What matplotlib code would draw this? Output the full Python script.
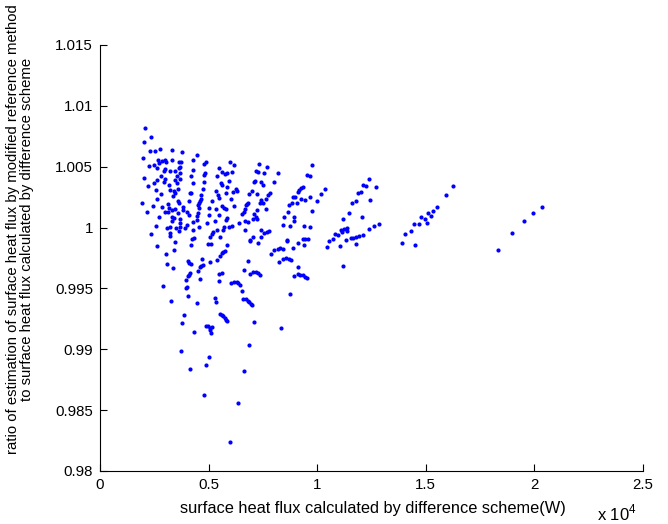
import matplotlib
matplotlib.use("Agg")
import matplotlib.pyplot as plt
import numpy as np

plt.rcParams['font.family'] = ['Liberation Sans', 'DejaVu Sans']
plt.rcParams['mathtext.fontset'] = 'custom'
plt.rcParams['mathtext.rm'] = 'Liberation Sans'

# ---- data (x: surface heat flux in W, y: ratio) ----
x_group_a = [2056,2333,2026,2302,2548,2778,3330,3776,1995,4482,
             4267,2670,2870,3008,2732,3054,3300,3653,3714,4881,
             4804,2271,2502,2640,3008,3684,3622,5479,4282,3453,
             3223,3684,2931,5618,4850,2010,2824,3008,3530,4190,
             4789,5372,2640,2471,2947,3438,3699,4789,3177,3545,
             4298,5572,5633,2225,2578,2809,3223,3392,3607,4205,
             4129,4743,4651,5326,5433,5495,2609,3469,3346,1934,
             2456,2855,3116,3607,3653,4083,4635,4605,4574,5142,
             5602,2179,3192,3330,3438,3837,3806,4497,4558,5034,
             5341,3146,2977,3591,3991,4512,4451,5034,5495,2732,
             3315,3407,4113,3684,4482,5311,3330,3684,4298,4021,
             4912,2578,3100,3223,3499,3684,3914,4298,4558,5403,
             5219,5142,5080,5725,5679,2333,3208,3223,3637,4236,
             4313,5526,5863,5756,5925,5833,5802,5710,5787,5863,
             5787,5955]
y_group_a = [1.00816,1.00745,1.00704,1.00632,1.00632,1.00649,1.00635,1.00619,1.00572,1.00597,
             1.00558,1.00553,1.00547,1.00553,1.00534,1.00536,1.00556,1.00542,1.00542,1.00536,
             1.00520,1.00504,1.00515,1.00487,1.00482,1.00495,1.00487,1.00493,1.00476,1.00468,
             1.00468,1.00449,1.00463,1.00454,1.00446,1.00410,1.00427,1.00402,1.00424,1.00424,
             1.00432,1.00427,1.00391,1.00369,1.00375,1.00391,1.00400,1.00378,1.00347,1.00364,
             1.00367,1.00369,1.00350,1.00339,1.00312,1.00279,1.00306,1.00301,1.00320,1.00284,
             1.00284,1.00317,1.00271,1.00298,1.00265,1.00243,1.00232,1.00282,1.00257,1.00205,
             1.00180,1.00169,1.00191,1.00221,1.00205,1.00221,1.00238,1.00221,1.00205,1.00216,
             1.00180,1.00128,1.00158,1.00145,1.00150,1.00167,1.00145,1.00183,1.00161,1.00161,
             1.00153,1.00128,1.00126,1.00117,1.00126,1.00117,1.00095,1.00104,1.00106,1.00084,
             1.00090,1.00079,1.00104,1.00071,1.00065,1.00057,1.00057,1.00041,1.00049,1.00024,
             1.00041,1.00010,0.99994,1.00002,0.99997,1.00008,0.99997,0.99980,1.00008,0.99980,
             0.99967,0.99947,0.99926,1.00008,0.99983,0.99947,0.99958,0.99934,0.99975,0.99906,
             0.99915,0.99926,1.00446,1.00441,1.00386,1.00331,1.00287,1.00161,1.00153,1.00079,
             1.00065,1.00002]

x_group_b = [5970,6185,6093,7336,7689,7198,7290,7566,8180,7137,
             7075,7397,7490,8027,9746,9546,9685,6139,6323,6246,
             6047,6998,7244,6876,7827,7751,7643,7520,7351,7428,
             6169,6830,6783,6722,6661,9362,9270,9178,9117,8994,
             8902,8840,8718,8672,9240,9071,9439,9685,10360,10191,
             9976,9746,6538,6630,7643,7229,7106,7167,7044,7213,
             6661,6384,6830,6062,6676,7397,7781,7674,7551,7413,
             7029,8426,8487,8948,8917,8733,9408,9669,8625,9332,
             9439,9562,6891]
y_group_b = [1.00539,1.00512,1.00454,1.00526,1.00501,1.00463,1.00460,1.00446,1.00452,1.00386,
             1.00378,1.00378,1.00347,1.00375,1.00515,1.00435,1.00424,1.00290,1.00298,1.00320,
             1.00238,1.00301,1.00279,1.00273,1.00284,1.00265,1.00235,1.00199,1.00199,1.00224,
             1.00180,1.00205,1.00191,1.00183,1.00150,1.00336,1.00326,1.00312,1.00295,1.00252,
             1.00249,1.00205,1.00186,1.00131,1.00232,1.00199,1.00227,1.00252,1.00317,1.00276,
             1.00216,1.00136,1.00112,1.00126,1.00153,1.00145,1.00112,1.00084,1.00073,1.00073,
             1.00052,1.00035,1.00043,1.00016,0.99983,0.99983,0.99975,0.99964,0.99953,0.99920,
             0.99920,1.00021,1.00084,1.00090,1.00057,1.00013,1.00013,1.00002,0.99901,0.99906,
             0.99906,0.99906,0.99898]

x_group_c = [2640,3023,3392,3469,4205,4958,5111,5833,6907,7260,
             8626,9102,9394,8887,10468,3100,3377,2916,3269,4052,
             4113,4175,4712,4758,4666,4589,5050,5387,5510,5602,
             5664,5740,4528,4144,4098,4052,3975,4605,3960,3991,
             4037,4466,5464,5633,5495,5280,5357,6047,6186,6293,
             6370,6447,6539,6646,6800,6907,7061,7183,7275,7352,
             6585,6707,6815,6876,6938,6999,7076,6861,6615,6339,
             6001,5510,5602,5679,5756,5817,5833,4881,4988,5065,
             5173,5050,5096,3883,3791,4313,3730,4144,5004,4881,
             4773,7859,8028,8196,8304,8427,8227,8411,8565,8703,
             8810,9102,8933,9102,9225,9332,9440,9532,8764,8350]
y_group_c = [0.99846,0.99786,0.99816,0.99882,0.99860,0.99866,0.99868,0.99860,0.99893,0.99874,
             0.99893,0.99877,0.99855,0.99833,0.99844,0.99704,0.99668,0.99520,0.99397,0.99723,
             0.99707,0.99699,0.99740,0.99696,0.99685,0.99674,0.99721,0.99737,0.99770,0.99792,
             0.99800,0.99805,0.99641,0.99627,0.99614,0.99603,0.99573,0.99575,0.99504,0.99510,
             0.99436,0.99378,0.99616,0.99625,0.99559,0.99422,0.99386,0.99542,0.99553,0.99551,
             0.99542,0.99526,0.99476,0.99652,0.99729,0.99619,0.99633,0.99636,0.99627,0.99614,
             0.99414,0.99411,0.99400,0.99386,0.99375,0.99364,0.99222,0.99038,0.98819,0.98559,
             0.98238,0.99288,0.99285,0.99276,0.99260,0.99244,0.99233,0.99194,0.99192,0.99178,
             0.99184,0.99162,0.99137,0.99279,0.99214,0.99140,0.98986,0.98841,0.98934,0.98874,
             0.98625,0.99781,0.99814,0.99825,0.99830,0.99825,0.99721,0.99743,0.99748,0.99743,
             0.99734,0.99677,0.99603,0.99616,0.99614,0.99608,0.99597,0.99586,0.99457,0.99178]

x_group_d = [11895,11588,11787,11465,11204,10820,10974,11097,11158,11235,
             11358,11388,10744,10544,11051,11327,11557,11665,11787,11925,
             11787,11173]
y_group_d = [1.00285,1.00200,1.00217,1.00121,1.00069,0.99948,0.99940,0.99981,0.99967,0.99986,
             0.99997,0.99975,0.99907,0.99893,0.99852,0.99899,0.99915,0.99915,0.99926,0.99929,
             0.99866,0.99682]

x_group_e = [12370,12125,12263,12708,12032,12416,12063,12401,12631,12831,12109]
y_group_e = [1.00400,1.00353,1.00342,1.00336,1.00290,1.00224,1.00090,0.99986,1.00013,1.00030,0.99942]

x_group_f = [16269,15931,15532,15332,15087,15240,14780,14979,15056,14442,
             14687,14319,14027,13905,14503,20352,19953,19507,18970,18325]
y_group_f = [1.00345,1.00268,1.00172,1.00139,1.00117,1.00095,1.00084,1.00071,1.00038,1.00030,
             1.00030,0.99969,0.99945,0.99873,0.99857,1.00167,1.00117,1.00052,0.99958,0.99819]

x_ticks = [0, 5000, 10000, 15000, 20000, 25000]
x_tick_labels = ['0', '0.5', '1', '1.5', '2', '2.5']
y_ticks = [0.98, 0.985, 0.99, 0.995, 1.0, 1.005, 1.01, 1.015]
y_tick_labels = ['0.98', '0.985', '0.99', '0.995', '1', '1.005', '1.01', '1.015']

x_all = x_group_a + x_group_b + x_group_c + x_group_d + x_group_e + x_group_f
y_all = y_group_a + y_group_b + y_group_c + y_group_d + y_group_e + y_group_f

W, H = 668, 524
fig = plt.figure(figsize=(W / 100, H / 100), dpi=100)
ax = fig.add_axes([100 / W, 1 - 471 / H, 543 / W, 426 / H])

ax.plot(x_all, y_all, linestyle='none', marker='o', color='#0000ff',
        markersize=3.0, markeredgewidth=0)

ax.set_xlim(0, 25000)
ax.set_ylim(0.98, 1.015)
ax.set_xticks(x_ticks)
ax.set_xticklabels(x_tick_labels)
ax.set_yticks(y_ticks)
ax.set_yticklabels(y_tick_labels)
for s in ['top', 'right']:
    ax.spines[s].set_visible(False)
for s in ['left', 'bottom']:
    ax.spines[s].set_linewidth(0.8)
ax.tick_params(direction='in', length=5, width=0.8, labelsize=10.8, pad=5)

fig.text(373 / W, 1 - 508 / H, 'surface heat flux calculated by difference scheme(W)',
         ha='center', va='center', fontsize=11.8)
fig.text(20 / W, 1 - 229 / H,
         'ratio of estimation of surface heat flux by modified reference method\n'
         'to surface heat flux calculated by difference scheme',
         ha='center', va='center', rotation=90, fontsize=10.7,
         multialignment='center', linespacing=1.0)
fig.text(617 / W, 1 - 513 / H, r'x 10$^{4}$', ha='center', va='center', fontsize=12)

fig.savefig('out.png', dpi=100, facecolor='white')
